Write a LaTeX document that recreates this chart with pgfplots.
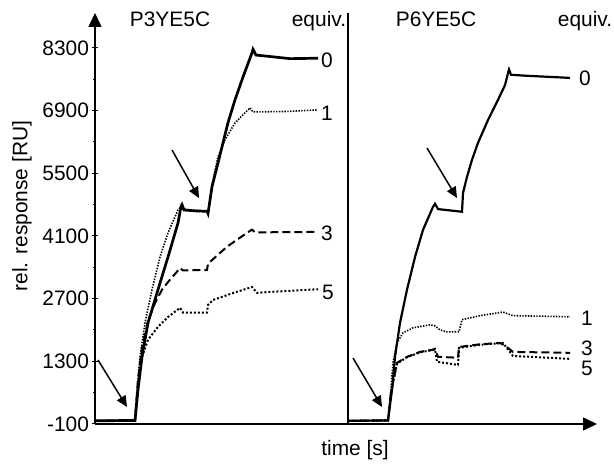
\documentclass[border=0pt]{standalone}
\usepackage{pgfplots}
\pgfplotsset{compat=1.18}
\usepackage{fontspec}
\setmainfont{Liberation Sans}
\usetikzlibrary{arrows.meta}
\newcommand\f{\fontsize{21}{25}\selectfont}
\begin{document}
\begin{tikzpicture}[x=1bp,y=1bp]
\useasboundingbox (-95,-46) rectangle (519,424);
\begin{axis}[
 at={(0,0)}, anchor=south west, scale only axis, width=502bp, height=411bp,
 xmin=0,xmax=502,ymin=-100,ymax=9080,
 axis lines=left,
 axis line style={line width=1.5bp, -{Triangle[length=14bp,width=13bp]}},
 xtick=\empty,
 ytick={-100,1300,2700,4100,5500,6900,8300},
 yticklabels={-100,1300,2700,4100,5500,6900,8300},
 minor ytick={600,2000,3400,4800,6200,7600},
 tick style={black,line width=1bp}, major tick length=5bp, minor tick length=3bp, tick align=center,
 yticklabel style={font=\f, xshift=0bp},
 clip=false,
]
% divider
\addplot[black,line width=1.3bp] coordinates {(253,-100)(253,9080)};
% left panel P3YE5C
\addplot[black,line width=2.7bp] coordinates {(0,-30)(40,-20)(43,663)(47,1400)(53,2160)(63,2900)(73,3630)(83,4390)(86,4760)(87,4800)(89,4680)(100,4660)(112,4650)(113,4600)(114,4750)(117,5200)(122,5640)(127,6090)(133,6630)(140,7140)(148,7650)(157,8190)(158,8270)(161,8140)(170,8120)(195,8060)(223,8070)};
\addplot[black,line width=1.6bp,dash pattern=on 1.4bp off 1.4bp] coordinates {(0,-30)(40,-20)(43,900)(45,1400)(50,2160)(57,2900)(65,3630)(73,4170)(83,4680)(86,4760)(88,4700)(112,4650)(113,4620)(118,5350)(123,5870)(130,6250)(140,6625)(150,6850)(155,6960)(158,6870)(190,6880)(223,6915)};
\addplot[black,line width=2bp,dash pattern=on 8bp off 4bp] coordinates {(0,-30)(40,-20)(43,900)(47,1600)(53,2200)(60,2600)(67,2900)(73,3070)(85,3380)(88,3330)(112,3340)(113,3480)(132,3860)(152,4170)(157,4240)(160,4180)(223,4190)};
\addplot[black,line width=2bp,dash pattern=on 2bp off 2bp] coordinates {(0,-30)(40,-20)(43,800)(47,1400)(53,1780)(63,2070)(73,2290)(85,2494)(88,2390)(112,2390)(113,2560)(118,2670)(138,2825)(157,2960)(162,2830)(175,2850)(223,2910)};
% right panel P6YE5C
\addplot[black,line width=2.2bp] coordinates {(253,-30)(293,-20)(297,663)(300,1400)(305,2160)(312,2900)(320,3630)(328,4236)(338,4750)(340,4820)(343,4700)(367,4640)(368,5060)(372,5420)(377,5800)(383,6180)(393,6690)(403,7140)(410,7470)(413,7740)(414,7820)(416,7700)(430,7680)(475,7630)};
\addplot[black,line width=1.6bp,dash pattern=on 1.4bp off 1.4bp] coordinates {(253,-30)(293,-20)(296,700)(298,1270)(302,1713)(308,1936)(318,2048)(335,2115)(340,2090)(345,2000)(352,1958)(364,1960)(367,2230)(385,2320)(408,2400)(418,2320)(475,2295)};
\addplot[black,line width=2bp,dash pattern=on 8bp off 4bp] coordinates {(253,-30)(293,-20)(296,600)(302,1266)(312,1400)(325,1511)(337,1556)(340,1580)(343,1400)(363,1380)(364,1620)(385,1680)(405,1710)(410,1650)(418,1510)(475,1490)};
\addplot[black,line width=2bp,dash pattern=on 2bp off 2bp] coordinates {(253,-30)(293,-20)(296,600)(302,1250)(312,1390)(325,1500)(337,1550)(340,1560)(342,1290)(363,1220)(364,1600)(385,1670)(408,1710)(418,1420)(475,1355)};
\end{axis}
% labels
\node[rotate=90,font=\f] at (-73,218) {rel. response [RU]};
\node[font=\f] at (260,-26) {time [s]};
\node[font=\f,anchor=base] at (75,397) {P3YE5C};
\node[font=\f,anchor=base] at (224,397) {equiv.};
\node[font=\f,anchor=base] at (341,397) {P6YE5C};
\node[font=\f,anchor=base] at (490,397) {equiv.};
\node[font=\f] at (232,364) {0};
\node[font=\f] at (232,311) {1};
\node[font=\f] at (232,191) {3};
\node[font=\f] at (233,132) {5};
\node[font=\f] at (490,346) {0};
\node[font=\f] at (492,106) {1};
\node[font=\f] at (492,76) {3};
\node[font=\f] at (492,56) {5};
% arrows
\begin{scope}[line width=1.5bp,-{Triangle[length=11bp,width=10bp]}]
\draw (3,64) -- (32,17);
\draw (77,274) -- (104,226);
\draw (332,276) -- (362,226);
\draw (258,66) -- (287,17);
\end{scope}
\end{tikzpicture}
\end{document}
